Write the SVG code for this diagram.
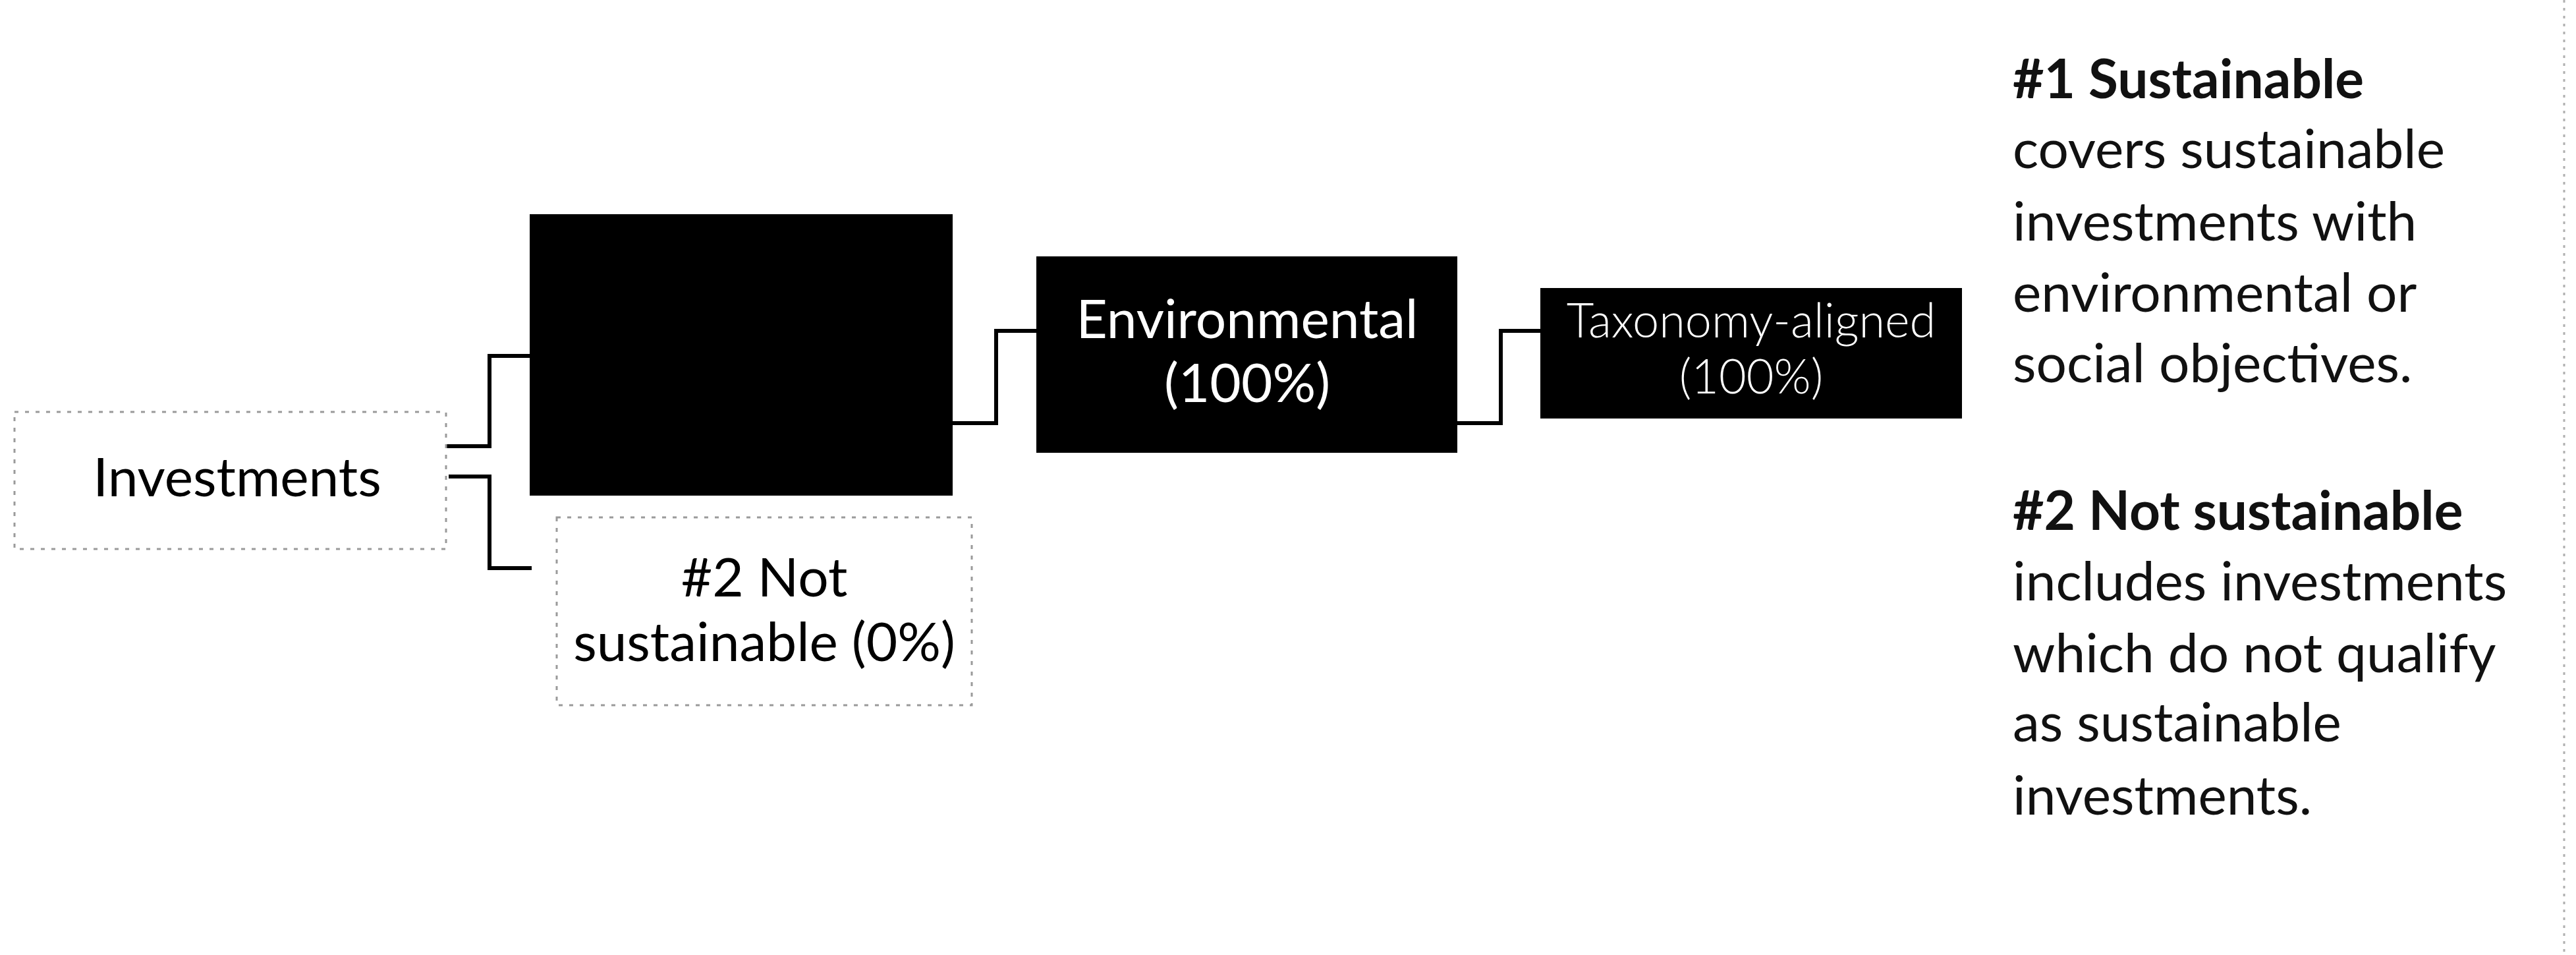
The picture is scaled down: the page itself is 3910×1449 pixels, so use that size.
<svg xmlns="http://www.w3.org/2000/svg" width="3910" height="1449" viewBox="0 0 3910 1449">
<style>
text { font-family: Lato, "Open Sans", "Liberation Sans", sans-serif; }
.lbl { font-size: 82px; fill: #000; }
.wlbl { font-size: 82px; fill: #fff; }
.tlbl { font-size: 72px; fill: #fff; font-weight: 300; }
.side { font-size: 82px; fill: #111; }
.b { font-weight: 700; }
.conn { fill: none; stroke: #000; stroke-width: 6; stroke-linejoin: miter; }
.dot { fill: none; stroke: #9a9a9a; stroke-width: 3; stroke-dasharray: 6 10; }
</style>
<rect width="3910" height="1449" fill="#fff"/>
<g id="connectors">
<polyline class="conn" points="677,677 743,677 743,540 804,540"/>
<polyline class="conn" points="681,723 743,723 743,862 807,862"/>
<polyline class="conn" points="1446,642 1512,642 1512,502 1573,502"/>
<polyline class="conn" points="2212,642 2278,642 2278,502 2338,502"/>
</g>
<g id="investments">
<rect class="dot" x="22" y="625" width="655" height="208" stroke="#cfcfcf"/>
<text class="lbl" x="360" y="753" text-anchor="middle">Investments</text>
</g>
<g id="sustainable">
<rect x="804" y="325" width="642" height="427" fill="#000"/>
</g>
<g id="not-sustainable">
<rect class="dot" x="845" y="785" width="630" height="285"/>
<text class="lbl" x="1160" y="905" text-anchor="middle">#2 Not</text>
<text class="lbl" x="1160" y="1003" text-anchor="middle">sustainable (0%)</text>
</g>
<g id="environmental">
<rect x="1573" y="389" width="639" height="298" fill="#000"/>
<text class="wlbl" x="1893" y="513" text-anchor="middle">Environmental</text>
<text class="wlbl" x="1893" y="610" text-anchor="middle">(100%)</text>
</g>
<g id="taxonomy">
<rect x="2338" y="437" width="640" height="198" fill="#000"/>
<text class="tlbl" x="2658" y="512" text-anchor="middle">Taxonomy-aligned</text>
<text class="tlbl" x="2658" y="597" text-anchor="middle">(100%)</text>
</g>
<g id="legend">
<text class="side" x="3055" y="149"><tspan class="b">#1 Sustainable</tspan></text>
<text class="side" x="3055" y="255">covers sustainable</text>
<text class="side" x="3055" y="365">investments with</text>
<text class="side" x="3055" y="473">environmental or</text>
<text class="side" x="3055" y="580">social objectives.</text>
<text class="side" x="3055" y="804"><tspan class="b">#2 Not sustainable</tspan></text>
<text class="side" x="3055" y="911">includes investments</text>
<text class="side" x="3055" y="1020">which do not qualify</text>
<text class="side" x="3055" y="1125">as sustainable</text>
<text class="side" x="3055" y="1236">investments.</text>
</g>
<line x1="3892" y1="0" x2="3892" y2="1449" stroke="#b0b0b0" stroke-width="3" stroke-dasharray="4 8"/>
</svg>
